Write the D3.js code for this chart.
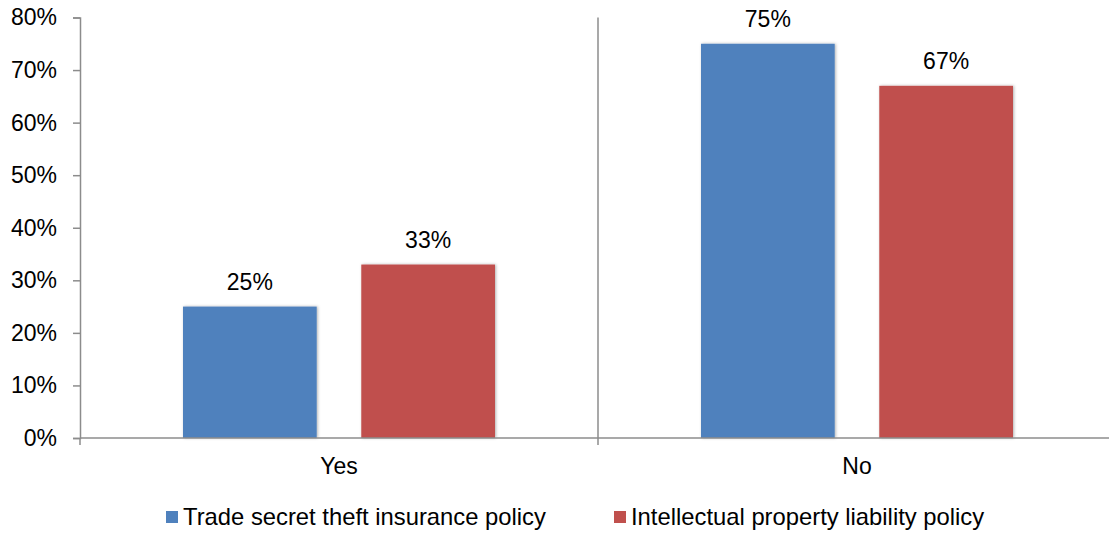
<!DOCTYPE html>
<html>
<head>
<meta charset="utf-8">
<script src="https://cdn.jsdelivr.net/npm/d3@7"></script>
<style>
  body { margin: 0; background: #fff; }
  svg { display: block; font-family: "Liberation Sans", Arial, sans-serif; }
</style>
</head>
<body>
<svg id="chart" width="1109" height="533"></svg>
<script>
// Data
var categories = ["Yes", "No"];
var seriesNames = ["Trade secret theft insurance policy", "Intellectual property liability policy"];
var seriesColors = ["#4F81BD", "#C0504D"];
var tradeSecret = [25, 75];
var ipLiability = [33, 67];
var yTicks = [0, 10, 20, 30, 40, 50, 60, 70, 80];

var svg = d3.select('#chart');
var plotLeft = 80, plotRight = 1116, plotTop = 17.5, plotBottom = 438;
var fontSize = '23px';

var defs = svg.append('defs');
var f = defs.append('filter').attr('id', 'shadow')
    .attr('x', '-10%').attr('y', '-10%').attr('width', '120%').attr('height', '120%');
f.append('feDropShadow').attr('dx', 1).attr('dy', 0)
    .attr('stdDeviation', 1.6).attr('flood-color', '#000').attr('flood-opacity', 0.3);

// Scales
var xScale = d3.scaleBand().domain(categories).range([plotLeft, plotRight]).paddingInner(0).paddingOuter(0);
var xInner = d3.scaleBand().domain([0, 1]).range([103, 415]).paddingInner(0.25);
var yScale = d3.scaleLinear().domain([0, 80]).range([plotBottom, plotTop]);

var data = categories.map(function(c, i) {
    return { cat: c, values: [tradeSecret[i], ipLiability[i]] };
});

// Y axis
var yAxis = d3.axisLeft(yScale).tickValues(yTicks).tickSize(7).tickPadding(16)
    .tickFormat(function(d) { return d + '%'; });
var gy = svg.append('g').attr('transform', 'translate(' + plotLeft + ',0)').call(yAxis);
gy.selectAll('text').style('font-size', fontSize).attr('fill', '#000');
gy.select('.domain').attr('stroke', '#8c8c8c').attr('stroke-width', 1.5);
gy.selectAll('.tick line').attr('stroke', '#8c8c8c').attr('stroke-width', 1.5);

// Divider between categories
svg.append('line')
    .attr('x1', xScale('No')).attr('x2', xScale('No'))
    .attr('y1', plotTop).attr('y2', plotBottom + 7)
    .attr('stroke', '#8c8c8c').attr('stroke-width', 1.5);

// Bars
var groups = svg.selectAll('.grp').data(data).enter().append('g')
    .attr('transform', function(d) { return 'translate(' + xScale(d.cat) + ',0)'; });

groups.selectAll('rect').data(function(d) { return d.values; }).enter().append('rect')
    .attr('x', function(d, i) { return xInner(i); })
    .attr('y', function(d) { return yScale(d); })
    .attr('width', xInner.bandwidth())
    .attr('height', function(d) { return yScale(0) - yScale(d); })
    .attr('fill', function(d, i) { return seriesColors[i]; })
    .attr('filter', 'url(#shadow)');

groups.selectAll('.lbl').data(function(d) { return d.values; }).enter().append('text')
    .attr('x', function(d, i) { return xInner(i) + xInner.bandwidth() / 2; })
    .attr('y', function(d) { return yScale(d) - 17; })
    .attr('text-anchor', 'middle')
    .style('font-size', fontSize)
    .text(function(d) { return d + '%'; });

// X axis
var xAxis = d3.axisBottom(xScale).tickSize(0).tickPadding(20);
var gx = svg.append('g').attr('transform', 'translate(0,' + plotBottom + ')').call(xAxis);
gx.selectAll('text').style('font-size', fontSize).attr('fill', '#000');
gx.select('.domain').remove();
svg.append('line').attr('x1', plotLeft).attr('x2', plotRight).attr('y1', plotBottom).attr('y2', plotBottom)
    .attr('stroke', '#8c8c8c').attr('stroke-width', 1.5);
svg.append('line').attr('x1', plotLeft).attr('x2', plotLeft).attr('y1', plotBottom).attr('y2', plotBottom + 7)
    .attr('stroke', '#8c8c8c').attr('stroke-width', 1.5);

// Legend
var legendX = [166, 614];
var legend = svg.selectAll('.leg').data(seriesNames).enter().append('g')
    .attr('transform', function(d, i) { return 'translate(' + legendX[i] + ',511)'; });
legend.append('rect').attr('width', 12).attr('height', 12)
    .attr('fill', function(d, i) { return seriesColors[i]; });
legend.append('text').attr('x', 17).attr('y', 14).style('font-size', '23.8px').text(function(d) { return d; });
</script>
</body>
</html>
